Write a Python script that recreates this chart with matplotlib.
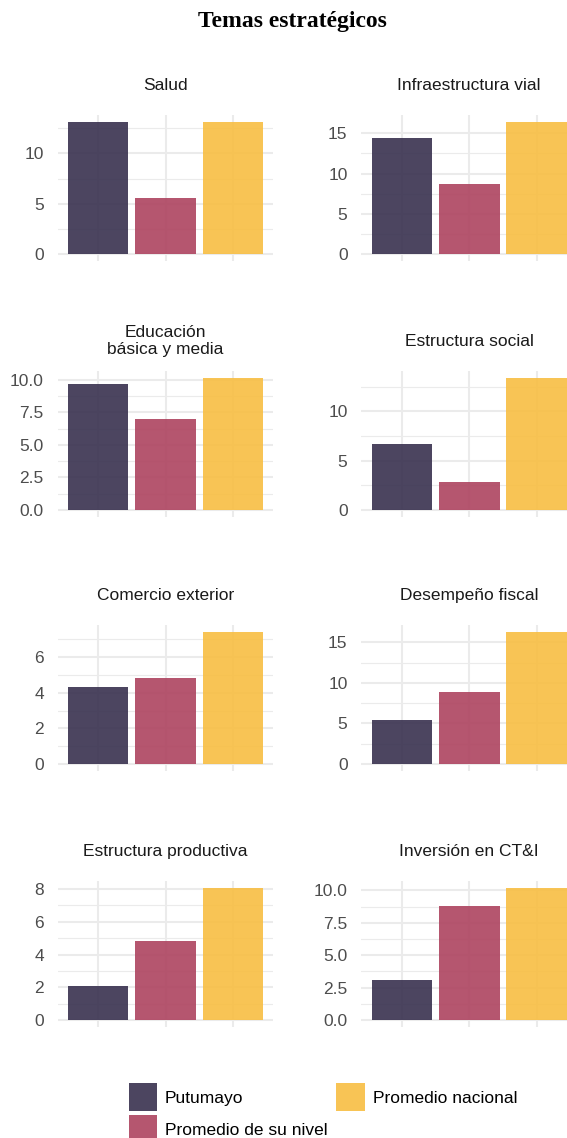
import matplotlib
matplotlib.use("Agg")
import matplotlib.pyplot as plt
from matplotlib.patches import Patch
from matplotlib.ticker import MultipleLocator, FormatStrFormatter
from matplotlib.transforms import offset_copy

# ---- data ----
titles = ["Salud", "Infraestructura vial",
          "Educación\nbásica y media", "Estructura social",
          "Comercio exterior", "Desempeño fiscal",
          "Estructura productiva", "Inversión en CT&I"]
series = ["Putumayo", "Promedio de su nivel", "Promedio nacional"]
putumayo = [13.15, 14.38, 9.64, 6.71, 4.31, 5.40, 2.09, 3.08]
nivel    = [5.59, 8.70, 7.00, 2.82, 4.82, 8.94, 4.81, 8.82]
nacional = [13.15, 16.45, 10.15, 13.43, 7.42, 16.32, 8.08, 10.21]
tick_steps = [5, 5, 2.5, 5, 2, 5, 2, 2.5]
tick_fmt = ["%d", "%d", "%.1f", "%d", "%d", "%d", "%d", "%.1f"]
colors = ["#38314F", "#AD435F", "#F8BE42"]

W, H = 567, 1138
DPI = 100
fig = plt.figure(figsize=(W / DPI, H / DPI), dpi=DPI)
fig.patch.set_facecolor("white")

sans = ["Liberation Sans", "DejaVu Sans"]
fs = 12.5

col_left = [57.7, 361.4]
panel_w = 215.6
row_top = [115.1, 371.1, 625.1, 881.1]
panel_h = 145.5

for i, title in enumerate(titles):
    r, c = divmod(i, 2)
    x0 = col_left[c]
    y0 = row_top[r]
    ax = fig.add_axes([x0 / W, 1 - (y0 + panel_h) / H, panel_w / W, panel_h / H])
    vals = [putumayo[i], nivel[i], nacional[i]]
    ax.set_axisbelow(True)
    ax.bar(range(3), vals, width=0.9, color=colors, alpha=0.9, linewidth=0, zorder=3)
    M = max(vals)
    ax.set_ylim(-0.05 * M, 1.05 * M)
    ax.set_xlim(-0.6, 2.6)
    ax.set_xticks(range(3))
    ax.set_xticklabels([])
    ax.yaxis.set_major_locator(MultipleLocator(tick_steps[i]))
    ax.yaxis.set_minor_locator(MultipleLocator(tick_steps[i] / 2))
    ax.yaxis.set_major_formatter(FormatStrFormatter(tick_fmt[i]))
    ax.tick_params(axis="both", which="both", length=0)
    ax.tick_params(axis="y", pad=10, labelsize=fs, labelcolor="#4D4D4D")
    for lab in ax.get_yticklabels():
        lab.set_fontfamily(sans)
    for s in ax.spines.values():
        s.set_visible(False)
    ax.grid(True, which="major", color="#EBEBEB", linewidth=1.5)
    ax.grid(True, which="minor", axis="y", color="#EBEBEB", linewidth=0.8)
    ax.set_facecolor("white")
    tr = offset_copy(ax.transAxes, fig=fig, x=0, y=30, units="dots")
    ax.text(0.5, 1.0, title, transform=tr, ha="center", va="center",
            multialignment="center", fontsize=fs, color="#1A1A1A",
            family=sans, linespacing=1.12)

fig.text(292.5 / W, 1 - 22 / H, "Temas estratégicos", ha="center", va="center",
         fontsize=17, fontweight="bold", family=["Liberation Serif", "DejaVu Serif"])

handles = [Patch(facecolor=colors[k], alpha=0.9, linewidth=0) for k in range(3)]
fig.legend(handles, series, loc="upper left",
           bbox_to_anchor=(129 / W, 1 - 1083 / H), ncol=2, frameon=False,
           borderpad=0, borderaxespad=0, handlelength=1.62, handleheight=2.12,
           handletextpad=0.46, labelspacing=0.24, columnspacing=0.5,
           prop={"family": sans, "size": fs})

fig.savefig("out.png", dpi=DPI, facecolor="white")
